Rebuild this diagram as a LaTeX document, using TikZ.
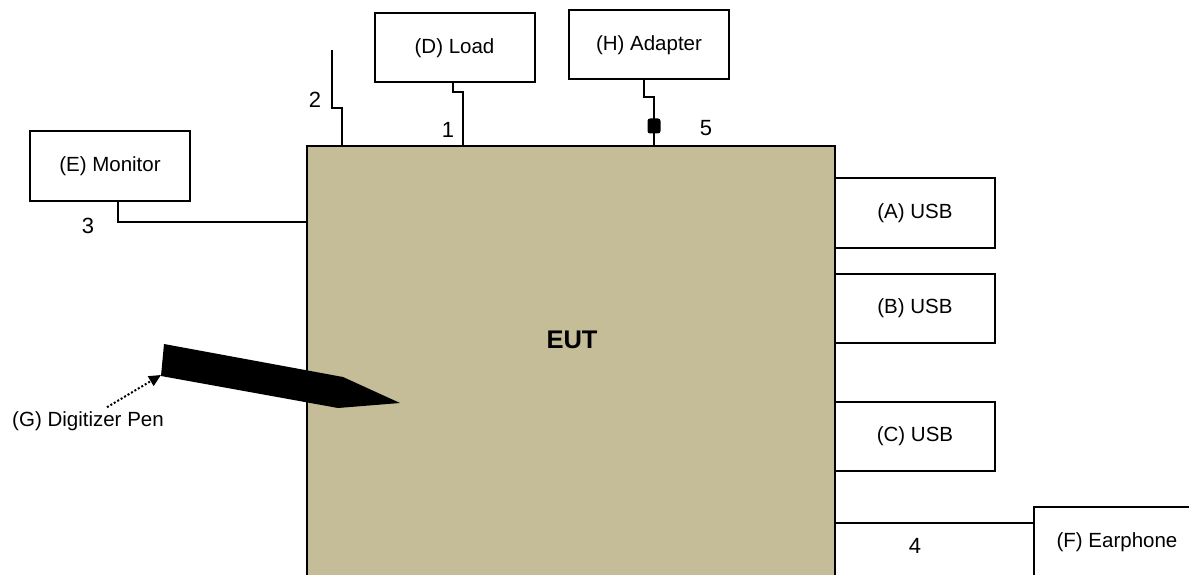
\documentclass[tikz,border=0pt]{standalone}
\usepackage{fontspec}
\setmainfont{Liberation Sans}
\usetikzlibrary{
  arrows.meta,
  positioning,
  calc
}
\definecolor{eutFill}{HTML}{C4BD98}
\tikzset{
  unit/.style={
    draw, line width=2pt, fill=white, minimum height=69pt, minimum width=160pt,
    font=\fontsize{20.5}{24}\selectfont, align=center, inner sep=0pt, outer sep=0pt
  },
  eutbox/.style={draw, line width=2pt, fill=eutFill, minimum width=528pt, minimum height=432pt,
    inner sep=0pt, outer sep=0pt},
  cable/.style={line width=2pt},
  cableno/.style={font=\fontsize{22}{26}\selectfont, inner sep=0pt},
  ferrite/.style={fill=black, rounded corners=2.5pt, minimum width=13pt, minimum height=15pt, inner sep=0pt},
  pointer/.style={dotted, line width=2pt, -{Triangle[length=12pt, width=11pt]}}
}
\begin{document}
\begin{tikzpicture}[x=1pt, y=-1pt]
  \useasboundingbox (0,0) rectangle (1189,575);
  % EUT
  \node[eutbox, anchor=north west] (eut) at (307,146) {};
  \node[font=\fontsize{25.5}{30}\selectfont\bfseries] (euttxt) at (572,340) {EUT};
  % support units
  \node[unit] (load) at (454.5,48) {(D) Load};
  \node[unit] (adapter) at (649,45) {(H) Adapter};
  \node[unit, minimum height=70pt] (monitor) at (110,166) {(E) Monitor};
  \node[unit, anchor=west] (usbA) at (eut.east |- 0,213) {(A) USB};
  \node[unit, anchor=west] (usbB) at (eut.east |- 0,308) {(B) USB};
  \node[unit, anchor=west] (usbC) at (eut.east |- 0,436.5) {(C) USB};
  \node[unit, minimum height=70pt, minimum width=166pt, anchor=west] (earphone) at (1034,542) {(F) Earphone};
  % cables
  \coordinate (lan) at (332,50);
  \draw[cable] (lan) |- (342,108) -- ($(eut.north west)+(35,0)$);
  \draw[cable] ([xshift=-1.5pt]load.south) -- ++(0,10) -| ($(eut.north west)+(156,0)$);
  \draw[cable] ([xshift=-5pt]adapter.south) -- ++(0,18) -| ([xshift=5pt]adapter.south |- eut.north);
  \node[ferrite] (core) at (654,126) {};
  \draw[cable] ([xshift=8pt]monitor.south) |- ($(eut.north west)+(0,76)$);
  \path ([yshift=19pt]earphone.west) coordinate (ej);
  \draw[cable] (eut.east |- ej) -- (ej);
  \node[cableno] (n1) at (448,130) {1};
  \node[cableno] (n2) at (315,100) {2};
  \node[cableno] (n3) at (88,226) {3};
  \node[cableno] (n4) at (915,546) {4};
  \node[cableno] (n5) at (706,128) {5};
  % digitizer pen
  \fill (164,344) -- (343,377) -- (400,403) -- (338,408) -- (161,376) -- cycle;
  \coordinate (pentail) at (161,375);
  \node[font=\fontsize{20.5}{24}\selectfont, inner sep=0pt] (pen) at (88,421) {(G) Digitizer Pen};
  \draw[pointer] ($(pen.north)+(19,-4)$) -- (pentail);
\end{tikzpicture}
\end{document}
